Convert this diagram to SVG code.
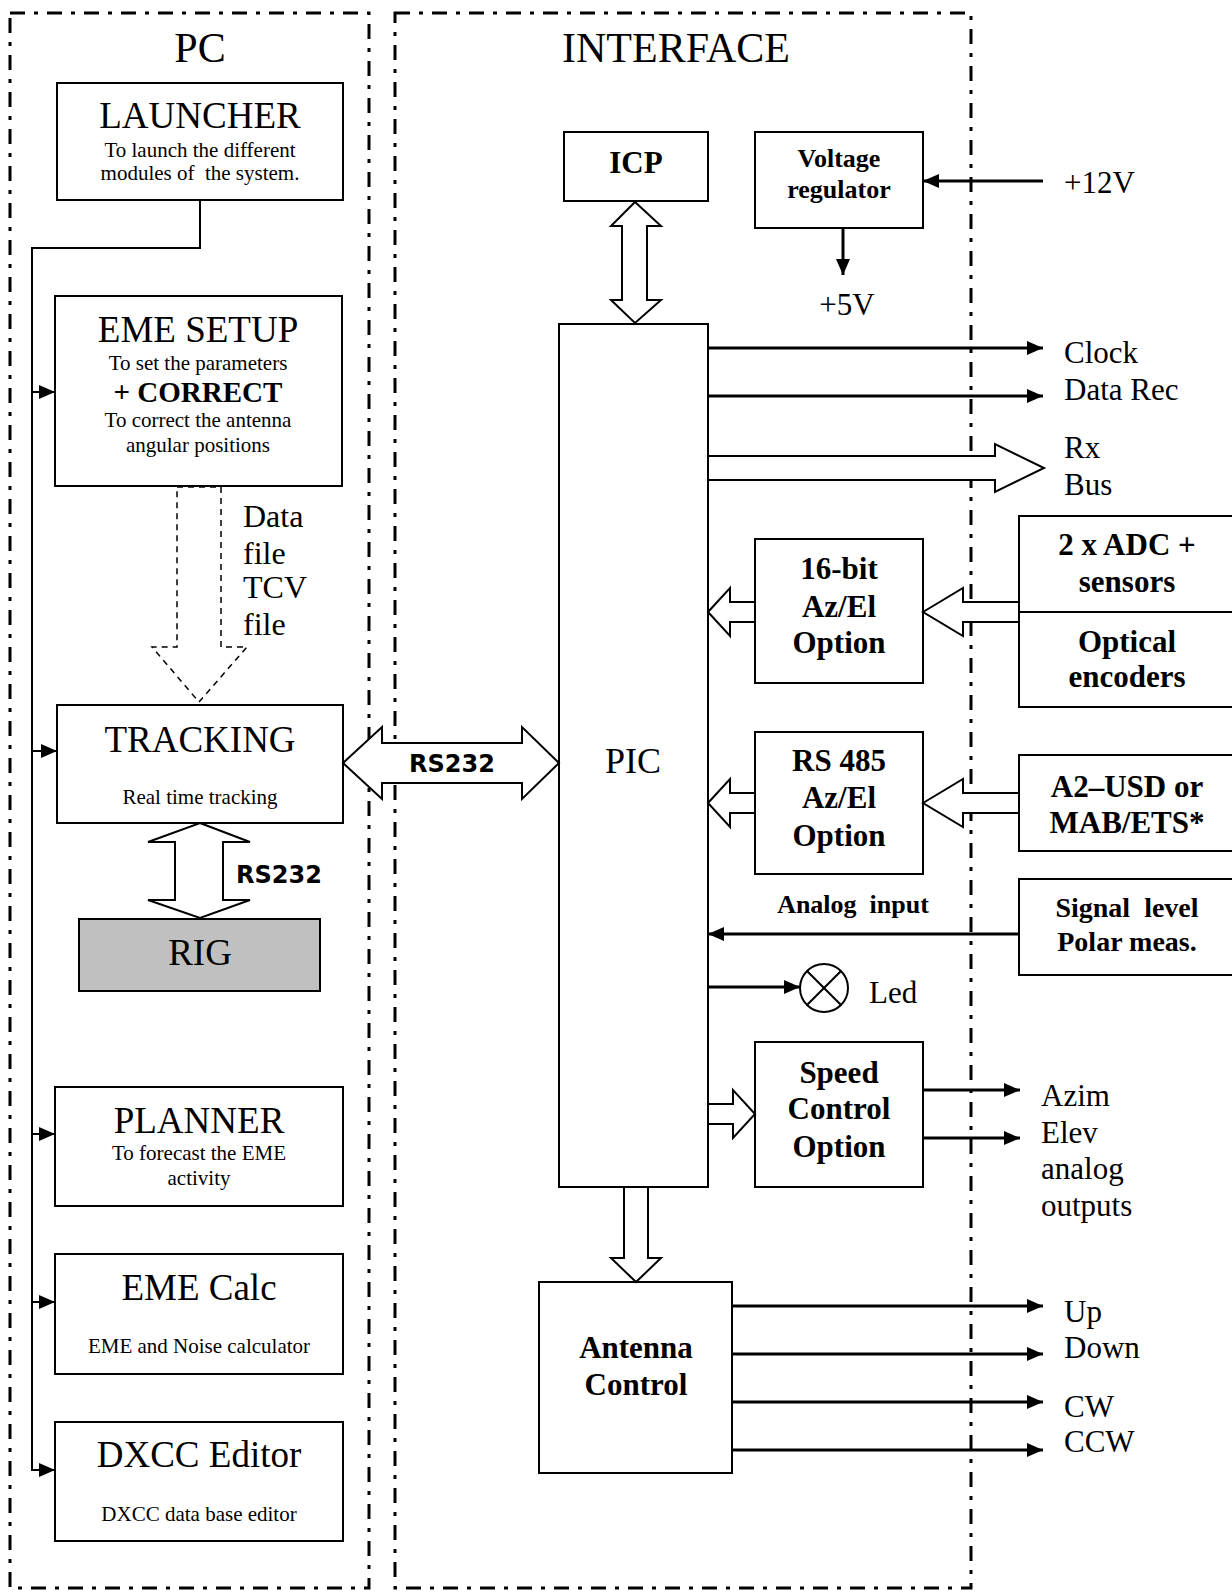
<svg xmlns="http://www.w3.org/2000/svg" width="1232" height="1592" viewBox="0 0 1232 1592">
<defs>
<marker id="ah" markerUnits="userSpaceOnUse" markerWidth="17" markerHeight="14" refX="16" refY="7" orient="auto"><path d="M0,0 L16,7 L0,14 z" fill="#000"/></marker>
</defs>
<style>
.frame{fill:none;stroke:#000;stroke-width:3;stroke-dasharray:15 9 4 9}
.box{fill:#fff;stroke:#000;stroke-width:2}
.t{font-family:"Liberation Serif","Times New Roman",serif;fill:#000;white-space:pre}
.b{font-weight:bold}
.c{text-anchor:middle}
.ln{fill:none;stroke:#000;stroke-width:2}
.ln3{fill:none;stroke:#000;stroke-width:3}
.hol{fill:#fff;stroke:#000;stroke-width:2;stroke-linejoin:miter}
.dsh{fill:#fff;stroke:#000;stroke-width:1.5;stroke-dasharray:6 5}
.rs{font-family:"DejaVu Sans",Verdana,sans-serif;font-weight:bold;font-size:24px;fill:#000}
.h{font-size:37px}
.s{font-size:21px}
.m{font-size:31px}
.bb{font-size:31px;font-weight:bold}
</style>
<rect fill="#fff" width="1232" height="1592"/>
<g id="frames">
<rect class="frame" x="10" y="13" width="359" height="1575"/>
<rect class="frame" x="395" y="13" width="576" height="1575"/>
<text class="t c" x="200" y="62" font-size="42">PC</text>
<text class="t c" x="676" y="62" font-size="42">INTERFACE</text>
</g>
<g id="launcher">
<rect class="box" x="57" y="83" width="286" height="117"/>
<text class="t c h" x="200" y="128">LAUNCHER</text>
<text class="t c s" x="200" y="157">To launch the different</text>
<text class="t c s" x="200" y="180">modules of  the system.</text>
</g>
<g id="eme-setup">
<rect class="box" x="55" y="296" width="287" height="190"/>
<text class="t c h" x="198" y="342">EME SETUP</text>
<text class="t c s" x="198" y="370">To set the parameters</text>
<text class="t c b" x="198" y="402" font-size="29">+ CORRECT</text>
<text class="t c s" x="198" y="427">To correct the antenna</text>
<text class="t c s" x="198" y="452">angular positions</text>
</g>
<g id="tracking">
<rect class="box" x="57" y="705" width="286" height="118"/>
<text class="t c h" x="200" y="752">TRACKING</text>
<text class="t c s" x="200" y="804">Real time tracking</text>
</g>
<g id="rig">
<rect x="79" y="919" width="241" height="72" fill="#c0c0c0" stroke="#000" stroke-width="2"/>
<text class="t c" x="200" y="965" font-size="37">RIG</text>
</g>
<g id="planner">
<rect class="box" x="55" y="1087" width="288" height="119"/>
<text class="t c h" x="199" y="1133">PLANNER</text>
<text class="t c s" x="199" y="1160">To forecast the EME</text>
<text class="t c s" x="199" y="1185">activity</text>
</g>
<g id="eme-calc">
<rect class="box" x="55" y="1254" width="288" height="120"/>
<text class="t c h" x="199" y="1300">EME Calc</text>
<text class="t c s" x="199" y="1353">EME and Noise calculator</text>
</g>
<g id="dxcc">
<rect class="box" x="55" y="1422" width="288" height="119"/>
<text class="t c h" x="199" y="1467">DXCC Editor</text>
<text class="t c s" x="199" y="1521">DXCC data base editor</text>
</g>
<g id="icp">
<rect class="box" x="564" y="132" width="144" height="69"/>
<text class="t c b" x="636" y="173" font-size="31">ICP</text>
</g>
<g id="voltage-regulator">
<rect class="box" x="755" y="132" width="168" height="96"/>
<text class="t c b" x="839" y="167" font-size="26">Voltage</text>
<text class="t c b" x="839" y="198" font-size="26">regulator</text>
</g>
<g id="pic">
<rect class="box" x="559" y="324" width="149" height="863"/>
<text class="t c" x="633" y="773" font-size="36">PIC</text>
</g>
<g id="opt16">
<rect class="box" x="755" y="539" width="168" height="144"/>
<text class="t c bb" x="839" y="579">16-bit</text>
<text class="t c bb" x="839" y="617">Az/El</text>
<text class="t c bb" x="839" y="653">Option</text>
</g>
<g id="adc">
<rect class="box" x="1019" y="516" width="230" height="96"/>
<text class="t c bb" x="1127" y="555">2 x ADC +</text>
<text class="t c bb" x="1127" y="592">sensors</text>
</g>
<g id="optical">
<rect class="box" x="1019" y="612" width="230" height="95"/>
<text class="t c bb" x="1127" y="652">Optical</text>
<text class="t c bb" x="1127" y="687">encoders</text>
</g>
<g id="rs485">
<rect class="box" x="755" y="732" width="168" height="142"/>
<text class="t c bb" x="839" y="771">RS 485</text>
<text class="t c bb" x="839" y="808">Az/El</text>
<text class="t c bb" x="839" y="846">Option</text>
</g>
<g id="a2usd">
<rect class="box" x="1019" y="755" width="230" height="96"/>
<text class="t c bb" x="1127" y="797">A2–USD or</text>
<text class="t c bb" x="1127" y="833">MAB/ETS*</text>
</g>
<g id="signal">
<rect class="box" x="1019" y="879" width="230" height="96"/>
<text class="t c b" x="1127" y="917" font-size="28">Signal  level</text>
<text class="t c b" x="1127" y="951" font-size="28">Polar meas.</text>
</g>
<g id="led">
<circle cx="824" cy="988" r="24" fill="#fff" stroke="#000" stroke-width="2"/>
<path class="ln" d="M807,971 L841,1005 M841,971 L807,1005"/>
<text class="t m" x="869" y="1003">Led</text>
</g>
<g id="speed">
<rect class="box" x="755" y="1042" width="168" height="145"/>
<text class="t c bb" x="839" y="1083">Speed</text>
<text class="t c bb" x="839" y="1119">Control</text>
<text class="t c bb" x="839" y="1157">Option</text>
</g>
<g id="antenna">
<rect class="box" x="539" y="1282" width="193" height="191"/>
<text class="t c bb" x="636" y="1358">Antenna</text>
<text class="t c bb" x="636" y="1395">Control</text>
</g>
<g id="connectors">
<path class="ln" d="M200,200 V248 H32 V1470 H55" marker-end="url(#ah)"/>
<path class="ln" d="M32,392 H55" marker-end="url(#ah)"/>
<path class="ln" d="M32,751 H57" marker-end="url(#ah)"/>
<path class="ln" d="M32,1134 H55" marker-end="url(#ah)"/>
<path class="ln" d="M32,1302 H55" marker-end="url(#ah)"/>
<polygon class="dsh" points="177,487 221,487 221,647 247,647 199,702 152,647 177,647"/>
<polygon class="hol" points="200,823 250,842 223,842 223,900 250,900 200,918 148,900 175,900 175,842 148,842"/>
<polygon class="hol" points="343,763 382,727 382,743 522,743 522,727 559,763 522,799 522,783 382,783 382,799"/>
<polygon class="hol" points="635,202 661,226 647,226 647,300 661,300 635,323 611,300 622,300 622,226 611,226"/>
<path class="ln3" d="M1043,181 H923" marker-end="url(#ah)"/>
<path class="ln3" d="M843,228 V275" marker-end="url(#ah)"/>
<path class="ln3" d="M708,348 H1043" marker-end="url(#ah)"/>
<path class="ln3" d="M708,396 H1043" marker-end="url(#ah)"/>
<polygon class="hol" points="708,456 995,456 995,444 1044,468 995,492 995,480 708,480"/>
<polygon class="hol" points="708,612 730,588 730,602 755,602 755,622 730,622 730,636"/>
<polygon class="hol" points="923,612 963,588 963,602 1019,602 1019,622 963,622 963,636"/>
<polygon class="hol" points="708,803 730,779 730,793 755,793 755,813 730,813 730,827"/>
<polygon class="hol" points="923,803 963,779 963,793 1019,793 1019,813 963,813 963,827"/>
<path class="ln3" d="M1019,934 H708" marker-end="url(#ah)"/>
<path class="ln3" d="M708,987 H800" marker-end="url(#ah)"/>
<polygon class="hol" points="708,1104 733,1104 733,1090 755,1114 733,1138 733,1124 708,1124"/>
<path class="ln3" d="M923,1090 H1020" marker-end="url(#ah)"/>
<path class="ln3" d="M923,1138 H1020" marker-end="url(#ah)"/>
<polygon class="hol" points="624,1187 648,1187 648,1258 661,1258 636,1282 611,1258 624,1258"/>
<path class="ln3" d="M732,1306 H1043" marker-end="url(#ah)"/>
<path class="ln3" d="M732,1354 H1043" marker-end="url(#ah)"/>
<path class="ln3" d="M732,1402 H1043" marker-end="url(#ah)"/>
<path class="ln3" d="M732,1450 H1043" marker-end="url(#ah)"/>
</g>
<g id="labels">
<text class="t" x="243" y="527" font-size="32">Data</text>
<text class="t" x="243" y="564" font-size="32">file</text>
<text class="t" x="243" y="598" font-size="32">TCV</text>
<text class="t" x="243" y="635" font-size="32">file</text>
<text class="rs" x="236" y="883">RS232</text>
<text class="rs" x="452" y="772" text-anchor="middle">RS232</text>
<text class="t m" x="1064" y="193">+12V</text>
<text class="t c m" x="847" y="315">+5V</text>
<text class="t m" x="1064" y="363">Clock</text>
<text class="t m" x="1064" y="400">Data Rec</text>
<text class="t m" x="1064" y="458">Rx</text>
<text class="t m" x="1064" y="495">Bus</text>
<text class="t c b" x="853" y="913" font-size="26">Analog  input</text>
<text class="t m" x="1041" y="1106">Azim</text>
<text class="t m" x="1041" y="1143">Elev</text>
<text class="t m" x="1041" y="1179">analog</text>
<text class="t m" x="1041" y="1216">outputs</text>
<text class="t m" x="1064" y="1322">Up</text>
<text class="t m" x="1064" y="1358">Down</text>
<text class="t m" x="1064" y="1417">CW</text>
<text class="t m" x="1064" y="1452">CCW</text>
</g>
</svg>
